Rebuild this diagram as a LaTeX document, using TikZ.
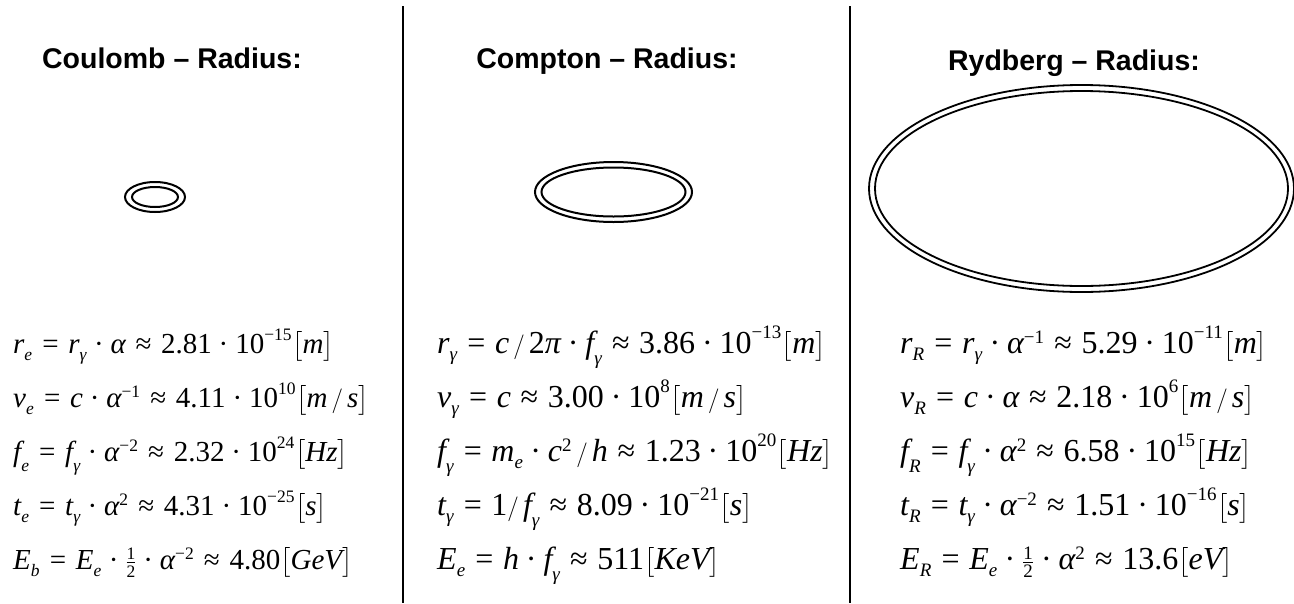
\documentclass[tikz,border=0pt]{standalone}
\usepackage{amsmath}
\usepackage{fontspec}
\setmainfont{Liberation Serif}
\newfontfamily\titlefont{Liberation Sans}
\DeclareMathSizes{32}{32}{19}{15}
\DeclareMathSizes{29}{29}{17.5}{14}
\newcommand{\unitbr}[1]{\mathopen{\bigl[}#1\mathclose{\bigr]}}
\newcommand{\iv}[1]{\text{\itshape #1}}
\newcommand{\lo}[1]{\text{\raisebox{-0.22em}{\itshape #1}}}
\newcommand{\nm}[1]{\text{#1}}
\newcommand{\gam}{\text{\itshape γ}}
\newcommand{\lgam}{\text{\raisebox{-0.22em}{\itshape γ}}}
\newcommand{\alp}{\text{\itshape α}}
\newcommand{\piv}{\text{\itshape π}}
\newcommand{\eqs}{\mathrel{\text{=}}}
\newcommand{\aps}{\mathrel{\text{≈}}}
\newcommand{\dt}{\mathbin{\text{·}}}
\newcommand{\half}{\tfrac{\text{1}}{\text{2}}}
\tikzset{
  title/.style={anchor=base, font=\titlefont\bfseries\fontsize{28.5}{32}\selectfont, inner sep=0pt},
  formula/.style={anchor=base west, font=\fontsize{32}{36}\selectfont, inner sep=0pt},
  formulaA/.style={anchor=base west, font=\fontsize{29}{34}\selectfont, inner sep=0pt},
  ring/.style={line width=2pt},
  divider/.style={line width=1.3pt}
}
\begin{document}
\begin{tikzpicture}[x=1pt,y=-1pt]
\thickmuskip=7mu plus 2mu \medmuskip=5mu plus 1mu
\useasboundingbox (0,0) rectangle (1294,603);
% dividers
\coordinate (d1t) at (403,6); \coordinate (d1b) at (403,603);
\coordinate (d2t) at (850,6); \coordinate (d2b) at (850,603);
\draw[divider] (d1t) -- (d1b);
\draw[divider] (d2t) -- (d2b);
% titles
\node[title] (t1) at (172,68) {Coulomb – Radius:};
\node[title] (t2) at (607,68) {Compton – Radius:};
\node[title] (t3) at (1074,70) {Rydberg – Radius:};
% rings
\draw[ring] (155,197) ellipse [x radius=30, y radius=15];
\draw[ring] (155,197) ellipse [x radius=23, y radius=10];
\draw[ring] (613.5,192) ellipse [x radius=78.5, y radius=30];
\draw[ring] (613.5,192) ellipse [x radius=72, y radius=24.5];
\draw[ring, line width=1.8pt] (1081.5,188.5) ellipse [x radius=212.5, y radius=103.5];
\draw[ring, line width=1.8pt] (1081.5,188.5) ellipse [x radius=206.5, y radius=97.5];
% column 1
\node[formulaA] (a1) at (13,353) {$\iv{r}_{\lo{e}} \eqs \iv{r}_\lgam\dt\alp \aps \nm{2.81}\dt\nm{10}^{\nm{−15}}\unitbr{\iv{m}}$};
\node[formulaA] (a2) at (13,407) {$\iv{v}_{\lo{e}} \eqs \iv{c}\dt\alp^{\nm{−1}} \aps \nm{4.11}\dt\nm{10}^{\nm{10}}\unitbr{\iv{m}\,/\,\iv{s}}$};
\node[formulaA] (a3) at (13,461) {$\iv{f}_{\lo{e}} \eqs \iv{f}_\lgam\dt\alp^{\nm{−2}} \aps \nm{2.32}\dt\nm{10}^{\nm{24}}\unitbr{\iv{Hz}}$};
\node[formulaA] (a4) at (13,515) {$\iv{t}_{\lo{e}} \eqs \iv{t}_\lgam\dt\alp^{\nm{2}} \aps \nm{4.31}\dt\nm{10}^{\nm{−25}}\unitbr{\iv{s}}$};
\node[formulaA] (a5) at (13,569) {$\iv{E}_{\lo{b}} \eqs \iv{E}_{\lo{e}}\dt\half\dt\alp^{\nm{−2}} \aps \nm{4.80}\unitbr{\iv{GeV}}$};
% column 2
\node[formula] (b1) at (437,353) {$\iv{r}_\lgam \eqs \iv{c}\,/\,\nm{2}\piv\dt \iv{f}_\lgam \aps \nm{3.86}\dt\nm{10}^{\nm{−13}}\unitbr{\iv{m}}$};
\node[formula] (b2) at (437,407) {$\iv{v}_\lgam \eqs \iv{c} \aps \nm{3.00}\dt\nm{10}^{\nm{8}}\unitbr{\iv{m}\,/\,\iv{s}}$};
\node[formula] (b3) at (437,461) {$\iv{f}_\lgam \eqs \iv{m}_{\lo{e}}\dt \iv{c}^{\nm{2}}\,/\,\iv{h} \aps \nm{1.23}\dt\nm{10}^{\nm{20}}\unitbr{\iv{Hz}}$};
\node[formula] (b4) at (437,515) {$\iv{t}_\lgam \eqs \nm{1}/\,\iv{f}_\lgam \aps \nm{8.09}\dt\nm{10}^{\nm{−21}}\unitbr{\iv{s}}$};
\node[formula] (b5) at (437,569) {$\iv{E}_{\lo{e}} \eqs \iv{h}\dt \iv{f}_\lgam \aps \nm{511}\unitbr{\iv{KeV}}$};
% column 3
\node[formula] (c1) at (900,353) {$\iv{r}_{\lo{R}} \eqs \iv{r}_\lgam\dt\alp^{\nm{−1}} \aps \nm{5.29}\dt\nm{10}^{\nm{−11}}\unitbr{\iv{m}}$};
\node[formula] (c2) at (900,407) {$\iv{v}_{\lo{R}} \eqs \iv{c}\dt\alp \aps \nm{2.18}\dt\nm{10}^{\nm{6}}\unitbr{\iv{m}\,/\,\iv{s}}$};
\node[formula] (c3) at (900,461) {$\iv{f}_{\lo{R}} \eqs \iv{f}_\lgam\dt\alp^{\nm{2}} \aps \nm{6.58}\dt\nm{10}^{\nm{15}}\unitbr{\iv{Hz}}$};
\node[formula] (c4) at (900,515) {$\iv{t}_{\lo{R}} \eqs \iv{t}_\lgam\dt\alp^{\nm{−2}} \aps \nm{1.51}\dt\nm{10}^{\nm{−16}}\unitbr{\iv{s}}$};
\node[formula] (c5) at (900,569) {$\iv{E}_{\lo{R}} \eqs \iv{E}_{\lo{e}}\dt\half\dt\alp^{\nm{2}} \aps \nm{13.6}\unitbr{\iv{eV}}$};
\end{tikzpicture}
\end{document}
